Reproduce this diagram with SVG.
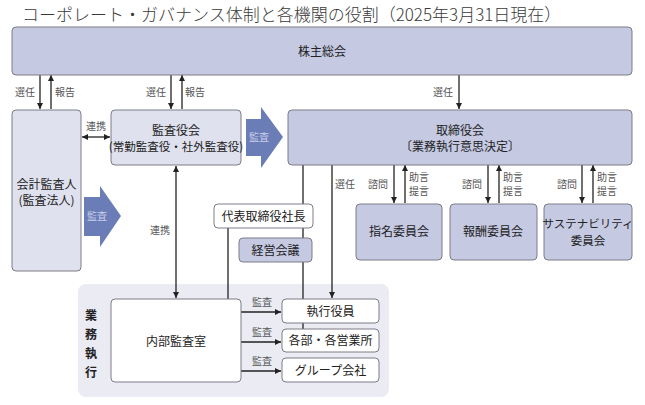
<svg xmlns="http://www.w3.org/2000/svg" width="645" height="405" viewBox="0 0 645 405">
<style>
text{font-family:"Noto Sans CJK JP","Noto Sans",sans-serif;}
.title{font-size:17px;fill:#3a3a3a;font-weight:300;}
.box{stroke:#7c7c88;stroke-width:1;}
.dark{fill:#c5c9e2;}
.light{fill:#dfe1ee;}
.white{fill:#fff;}
.t{font-size:12px;fill:#222;text-anchor:middle;}
.t2{font-size:11.5px;fill:#222;text-anchor:middle;}
.lbl{font-size:10px;fill:#555;text-anchor:middle;}
.ln{stroke:#222;stroke-width:1.3;fill:none;}
.big{fill:#6b7db7;}
.bl{font-size:10px;fill:#c9cfea;text-anchor:middle;}
.gy{font-size:12px;font-weight:bold;fill:#222;text-anchor:middle;}
</style>
<defs>
<marker id="ah" viewBox="0 0 10 10" refX="10" refY="5" markerWidth="6" markerHeight="6" markerUnits="userSpaceOnUse" orient="auto-start-reverse">
<path d="M0,0 L10,5 L0,10 z" fill="#222"/>
</marker>
</defs>
<rect width="645" height="405" fill="#fff"/>
<text class="title" x="22" y="21">コーポレート・ガバナンス体制と各機関の役割（2025年3月31日現在）</text>

<g id="panel-gyomu">
<rect x="78" y="284" width="311" height="113" rx="8" fill="#eaebf3"/>
<text class="gy" x="91" y="320">業</text>
<text class="gy" x="91" y="339">務</text>
<text class="gy" x="91" y="358">執</text>
<text class="gy" x="91" y="377">行</text>
</g>

<g id="connectors">
<line class="ln" x1="40" y1="75" x2="40" y2="109" marker-end="url(#ah)"/>
<line class="ln" x1="51" y1="109" x2="51" y2="75" marker-end="url(#ah)"/>
<line class="ln" x1="171" y1="75" x2="171" y2="109" marker-end="url(#ah)"/>
<line class="ln" x1="182" y1="109" x2="182" y2="75" marker-end="url(#ah)"/>
<line class="ln" x1="459" y1="75" x2="459" y2="109" marker-end="url(#ah)"/>
<line class="ln" x1="82" y1="137" x2="110" y2="137" marker-start="url(#ah)" marker-end="url(#ah)"/>
<line class="ln" x1="176" y1="166" x2="176" y2="298" marker-start="url(#ah)" marker-end="url(#ah)"/>
<line class="ln" x1="394" y1="165" x2="394" y2="203" marker-end="url(#ah)"/>
<line class="ln" x1="405" y1="203" x2="405" y2="165" marker-end="url(#ah)"/>
<line class="ln" x1="488" y1="165" x2="488" y2="203" marker-end="url(#ah)"/>
<line class="ln" x1="499" y1="203" x2="499" y2="165" marker-end="url(#ah)"/>
<line class="ln" x1="582" y1="165" x2="582" y2="203" marker-end="url(#ah)"/>
<line class="ln" x1="593" y1="203" x2="593" y2="165" marker-end="url(#ah)"/>
<line class="ln" x1="332" y1="165" x2="332" y2="298" marker-end="url(#ah)"/>
<line class="ln" x1="303" y1="165" x2="303" y2="329"/>
<line class="ln" x1="228" y1="228" x2="228" y2="299"/>
<line class="ln" x1="241" y1="312" x2="281" y2="312" marker-end="url(#ah)"/>
<line class="ln" x1="241" y1="342" x2="281" y2="342" marker-end="url(#ah)"/>
<line class="ln" x1="241" y1="371" x2="281" y2="371" marker-end="url(#ah)"/>
<path class="big" d="M246,119 H261 V107 L283,137 L261,168 V156 H246 Z"/>
<text class="bl" x="259" y="141">監査</text>
<path class="big" d="M84,197 H100 V186 L121,216 L100,247 V236 H84 Z"/>
<text class="bl" x="97" y="220">監査</text>
<text class="lbl" x="25" y="96">選任</text>
<text class="lbl" x="65" y="96">報告</text>
<text class="lbl" x="156" y="96">選任</text>
<text class="lbl" x="195" y="96">報告</text>
<text class="lbl" x="443" y="96">選任</text>
<text class="lbl" x="96" y="130">連携</text>
<text class="lbl" x="160" y="234">連携</text>
<text class="lbl" x="345" y="188">選任</text>
<text class="lbl" x="378" y="188">諮問</text>
<text class="lbl" x="419" y="181">助言</text>
<text class="lbl" x="419" y="195">提言</text>
<text class="lbl" x="472" y="188">諮問</text>
<text class="lbl" x="513" y="181">助言</text>
<text class="lbl" x="513" y="195">提言</text>
<text class="lbl" x="567" y="188">諮問</text>
<text class="lbl" x="607" y="181">助言</text>
<text class="lbl" x="607" y="195">提言</text>
<text class="lbl" x="262" y="306">監査</text>
<text class="lbl" x="262" y="336">監査</text>
<text class="lbl" x="262" y="365">監査</text>
</g>

<g id="node-kabunushi">
<rect class="box dark" x="12" y="27" width="620" height="48" rx="4"/>
<text class="t" x="322" y="56">株主総会</text>
</g>
<g id="node-kaikei">
<rect class="box light" x="12" y="110" width="69" height="161" rx="4"/>
<text class="t" x="46.5" y="189">会計監査人</text>
<text class="t" x="46.5" y="205">(監査法人)</text>
</g>
<g id="node-kansayaku">
<rect class="box light" x="111" y="110" width="130" height="55" rx="4"/>
<text class="t" x="176" y="135">監査役会</text>
<text class="t2" x="176" y="151">(常勤監査役・社外監査役)</text>
</g>
<g id="node-torishimariyaku">
<rect class="box dark" x="288" y="110" width="344" height="55" rx="4"/>
<text class="t" x="460" y="135">取締役会</text>
<text class="t" x="460" y="151">〔業務執行意思決定〕</text>
</g>
<g id="node-shimei">
<rect class="box dark" x="356" y="204" width="86" height="56" rx="4"/>
<text class="t" x="399" y="236">指名委員会</text>
</g>
<g id="node-hoshu">
<rect class="box dark" x="450" y="204" width="87" height="56" rx="4"/>
<text class="t" x="493" y="236">報酬委員会</text>
</g>
<g id="node-sustainability">
<rect class="box dark" x="544" y="204" width="88" height="56" rx="4"/>
<text class="t2" x="588" y="228">サステナビリティ</text>
<text class="t2" x="588" y="245">委員会</text>
</g>
<g id="node-shacho">
<rect class="box white" x="214" y="204" width="99" height="24" rx="4"/>
<text class="t" x="263.5" y="220.5">代表取締役社長</text>
</g>
<g id="node-keiei">
<rect class="box dark" x="239" y="238" width="73" height="24" rx="4"/>
<text class="t" x="275.5" y="254.5">経営会議</text>
</g>
<g id="node-naibu">
<rect class="box white" x="111" y="299" width="130" height="83" rx="4"/>
<text class="t" x="176" y="345.5">内部監査室</text>
</g>
<g id="node-shikko">
<rect class="box white" x="282" y="299" width="97" height="24" rx="4"/>
<text class="t" x="330.5" y="315.5">執行役員</text>
</g>
<g id="node-kakubu">
<rect class="box white" x="282" y="329" width="97" height="23" rx="4"/>
<text class="t" x="330.5" y="345">各部・各営業所</text>
</g>
<g id="node-group">
<rect class="box white" x="282" y="358" width="97" height="24" rx="4"/>
<text class="t" x="330.5" y="374.5">グループ会社</text>
</g>
</svg>
